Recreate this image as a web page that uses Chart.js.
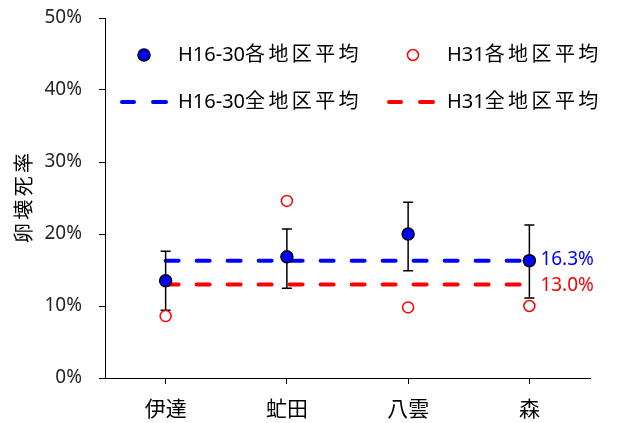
<!DOCTYPE html>
<html>
<head>
<meta charset="utf-8">
<script src="https://cdn.jsdelivr.net/npm/chart.js@4"></script>
<style>
  html, body { margin: 0; padding: 0; background: #fff; }
  #wrap { width: 617px; height: 423px; }
</style>
</head>
<body>
<div id="wrap"><canvas id="chartEgg"></canvas></div>
<script>
const categories = ['伊達', '虻田', '八雲', '森'];
const h1630Avg = [13.5, 16.85, 20.0, 16.3];
const h1630ErrPlus = [4.1, 3.85, 4.4, 4.95];
const h1630ErrMinus = [4.1, 4.4, 5.1, 5.2];
const h31Avg = [8.6, 24.6, 9.8, 10.0];
const h1630All = 16.3;
const h31All = 13.0;
const yTicks = [0, 10, 20, 30, 40, 50];

const BLUE = '#0000ff';
const RED = '#ff0000';
const FONT = '"Noto Sans", "Noto Sans CJK JP", sans-serif';

// draw text with wider advance for the kanji, like the original
function drawMixed(ctx, text, x, y) {
    for (const ch of text) {
        const cjk = /[\u3000-\u9fff]/.test(ch);
        ctx.fillText(ch, x, y);
        x += cjk ? 23.4 : ctx.measureText(ch).width;
    }
}

const extras = {
    id: 'extras',
    beforeDatasetDraw(chart, args) {
        if (args.meta.label !== 'H31各地区平均') return;
        const ctx = chart.ctx;
        const xs = chart.scales.x, ys = chart.scales.y;
        ctx.save();
        ctx.strokeStyle = '#000';
        ctx.lineWidth = 1.5;
        h1630Avg.forEach((v, i) => {
            const x = xs.getPixelForValue(i);
            const top = ys.getPixelForValue(v + h1630ErrPlus[i]);
            const bot = ys.getPixelForValue(v - h1630ErrMinus[i]);
            ctx.beginPath();
            ctx.moveTo(x, top); ctx.lineTo(x, bot);
            ctx.moveTo(x - 5, top); ctx.lineTo(x + 5, top);
            ctx.moveTo(x - 5, bot); ctx.lineTo(x + 5, bot);
            ctx.stroke();
        });
        ctx.restore();
    },
    afterDraw(chart) {
        const ctx = chart.ctx;
        const xs = chart.scales.x, ys = chart.scales.y;
        ctx.save();
        // value labels at end of the average lines
        ctx.font = '19px ' + FONT;
        ctx.textBaseline = 'middle';
        ctx.textAlign = 'left';
        const lx = xs.getPixelForValue(categories.length - 1) + 11;
        ctx.fillStyle = BLUE;
        ctx.fillText(h1630All.toFixed(1) + '%', lx, ys.getPixelForValue(h1630All) - 1);
        ctx.fillStyle = RED;
        ctx.fillText(h31All.toFixed(1) + '%', lx, ys.getPixelForValue(h31All) + 1);

        // legend
        ctx.font = '20px ' + FONT;
        ctx.fillStyle = '#000';
        drawMixed(ctx, 'H16-30各地区平均', 178, 55);
        drawMixed(ctx, 'H31各地区平均', 447, 55);
        drawMixed(ctx, 'H16-30全地区平均', 178, 102);
        drawMixed(ctx, 'H31全地区平均', 447, 102);

        ctx.beginPath();
        ctx.arc(144, 55, 6, 0, Math.PI * 2);
        ctx.fillStyle = BLUE; ctx.fill();
        ctx.lineWidth = 1.5; ctx.strokeStyle = '#000'; ctx.stroke();

        ctx.beginPath();
        ctx.arc(413, 55, 5.5, 0, Math.PI * 2);
        ctx.fillStyle = '#fff'; ctx.fill();
        ctx.lineWidth = 1.5; ctx.strokeStyle = RED; ctx.stroke();

        ctx.lineWidth = 4;
        ctx.lineCap = 'round';
        [[BLUE, 122, 134, 153, 166], [RED, 389, 401, 420, 433]].forEach(d => {
            ctx.strokeStyle = d[0];
            ctx.beginPath();
            ctx.moveTo(d[1], 102); ctx.lineTo(d[2], 102);
            ctx.moveTo(d[3], 102); ctx.lineTo(d[4], 102);
            ctx.stroke();
        });

        // y axis title, rotated
        ctx.translate(25, 198);
        ctx.rotate(-Math.PI / 2);
        ctx.font = '20px ' + FONT;
        ctx.fillStyle = '#000';
        ctx.textAlign = 'center';
        const t = '卵壊死率';
        [...t].forEach((ch, i) => ctx.fillText(ch, (i - 1.5) * 23.3, 0));
        ctx.restore();
    }
};

const ctxEgg = document.getElementById('chartEgg').getContext('2d');
const chartEgg = new Chart(ctxEgg, {
    type: 'line',
    data: {
        labels: categories,
        datasets: [{
            label: 'H16-30各地区平均',
            data: h1630Avg,
            showLine: false,
            pointRadius: 6,
            pointBackgroundColor: BLUE,
            pointBorderColor: '#000',
            pointBorderWidth: 1.5,
            order: 0
        }, {
            label: 'H31各地区平均',
            data: h31Avg,
            showLine: false,
            pointRadius: 5.5,
            pointBackgroundColor: '#fff',
            pointBorderColor: RED,
            pointBorderWidth: 1.5,
            order: 1
        }, {
            label: 'H16-30全地区平均',
            data: categories.map(() => h1630All),
            borderColor: BLUE,
            borderWidth: 4,
            borderDash: [13, 18],
            borderCapStyle: 'round',
            pointRadius: 0,
            order: 2
        }, {
            label: 'H31全地区平均',
            data: categories.map(() => h31All),
            borderColor: RED,
            borderWidth: 4,
            borderDash: [13, 18],
            borderCapStyle: 'round',
            pointRadius: 0,
            order: 2
        }]
    },
    options: {
        responsive: true,
        maintainAspectRatio: false,
        animation: false,
        layout: { padding: { top: 18, right: 27, left: 0, bottom: 0 } },
        plugins: {
            legend: { display: false },
            tooltip: { enabled: false }
        },
        scales: {
            x: {
                offset: true,
                grid: { drawOnChartArea: false, tickLength: 6, color: '#000' },
                border: { color: '#000' },
                ticks: { color: '#000', font: { size: 21, family: FONT }, padding: 13 },
                afterFit(s) { s.height = 45; s.paddingLeft = 0; s.paddingRight = 0; }
            },
            y: {
                min: 0,
                max: 50,
                afterBuildTicks(s) { s.ticks = yTicks.map(v => ({ value: v })); },
                grid: { drawOnChartArea: false, tickLength: 6, color: '#000' },
                border: { color: '#000' },
                ticks: {
                    color: '#262626',
                    font: { size: 19, family: FONT },
                    padding: 17,
                    callback: v => v + '%'
                },
                afterFit(s) { s.width = 105; s.paddingTop = 0; s.paddingBottom = 0; }
            }
        }
    },
    plugins: [extras]
});
</script>
</body>
</html>
